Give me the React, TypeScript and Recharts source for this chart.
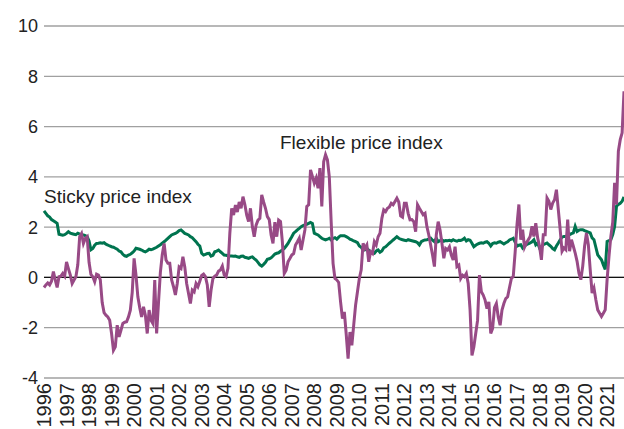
import { CartesianGrid, Line, LineChart, ReferenceLine, XAxis, YAxis } from 'recharts'

// monthly readings, Jan 1996 .. Oct 2021
const years = [
  1996, 1997, 1998, 1999, 2000, 2001, 2002, 2003, 2004, 2005, 2006, 2007, 2008,
  2009, 2010, 2011, 2012, 2013, 2014, 2015, 2016, 2017, 2018, 2019, 2020, 2021,
]

const yTicks = [-4, -2, 0, 2, 4, 6, 8, 10]

const sticky = [
  2.65, 2.55, 2.45, 2.4, 2.3, 2.25, 2.2, 2.15, 1.72, 1.7, 1.68, 1.7, // 1996
  1.75, 1.82, 1.76, 1.74, 1.72, 1.7, 1.76, 1.72, 1.7, 1.69, 1.66, 1.62, // 1997
  1.45, 1.1, 1.15, 1.28, 1.35, 1.36, 1.38, 1.36, 1.38, 1.32, 1.29, 1.25, // 1998
  1.22, 1.2, 1.16, 1.12, 1.05, 1.02, 0.92, 0.86, 0.84, 0.89, 0.92, 0.98, // 1999
  1.05, 1.16, 1.14, 1.12, 1.09, 1.05, 1.02, 1.06, 1.12, 1.1, 1.13, 1.16, // 2000
  1.2, 1.25, 1.3, 1.36, 1.42, 1.48, 1.55, 1.62, 1.69, 1.72, 1.75, 1.8, // 2001
  1.86, 1.89, 1.82, 1.75, 1.72, 1.69, 1.62, 1.58, 1.5, 1.42, 1.32, 1.25, // 2002
  0.96, 0.89, 0.92, 0.95, 0.96, 0.85, 0.88, 1.02, 1.05, 1.09, 1.02, 0.96, // 2003
  0.89, 0.88, 0.86, 0.85, 0.85, 0.84, 0.85, 0.82, 0.8, 0.84, 0.85, 0.8, // 2004
  0.78, 0.76, 0.8, 0.82, 0.75, 0.69, 0.6, 0.5, 0.45, 0.52, 0.6, 0.72, // 2005
  0.74, 0.78, 0.85, 0.93, 0.96, 0.98, 1.04, 1.09, 1.15, 1.25, 1.35, 1.49, // 2006
  1.62, 1.76, 1.82, 1.89, 1.95, 2.02, 2.06, 2.09, 2.11, 2.15, 2.19, 2.15, // 2007
  1.76, 1.72, 1.69, 1.62, 1.56, 1.52, 1.49, 1.52, 1.56, 1.49, 1.55, 1.58, // 2008
  1.52, 1.6, 1.66, 1.66, 1.66, 1.62, 1.58, 1.52, 1.49, 1.45, 1.42, 1.38, // 2009
  1.25, 1.2, 1.09, 1.1, 1.16, 1.08, 1.02, 0.98, 0.96, 1.05, 1.09, 1.0, // 2010
  1.05, 1.18, 1.22, 1.29, 1.36, 1.42, 1.49, 1.55, 1.62, 1.56, 1.52, 1.5, // 2011
  1.48, 1.46, 1.5, 1.48, 1.46, 1.44, 1.42, 1.38, 1.29, 1.42, 1.46, 1.49, // 2012
  1.5, 1.52, 1.56, 1.48, 1.42, 1.56, 1.42, 1.46, 1.49, 1.44, 1.47, 1.46, // 2013
  1.48, 1.45, 1.5, 1.46, 1.44, 1.48, 1.47, 1.5, 1.56, 1.45, 1.5, 1.48, // 2014
  1.36, 1.22, 1.28, 1.33, 1.36, 1.38, 1.36, 1.4, 1.42, 1.36, 1.25, 1.35, // 2015
  1.38, 1.36, 1.4, 1.42, 1.38, 1.33, 1.38, 1.42, 1.49, 1.52, 1.56, 1.4, // 2016
  1.24, 1.28, 1.3, 1.17, 1.25, 1.3, 1.34, 1.37, 1.42, 1.5, 1.3, 1.37, // 2017
  1.17, 1.22, 1.3, 1.34, 1.37, 1.3, 1.24, 1.15, 1.1, 1.25, 1.37, 1.5, // 2018
  1.6, 1.63, 1.63, 1.66, 1.7, 1.74, 1.77, 2.03, 1.83, 1.88, 1.9, 1.9, // 2019
  1.86, 1.83, 1.8, 1.77, 1.57, 1.5, 1.2, 0.9, 0.8, 0.7, 0.5, 0.32, // 2020
  1.43, 1.46, 1.5, 1.7, 2.03, 2.83, 2.9, 2.95, 3.03, 3.2, // 2021
]

const flexible = [
  -0.4, -0.3, -0.22, -0.3, -0.15, 0.23, -0.1, -0.4, 0.03, 0.05, 0.16, 0.05, // 1996
  0.62, 0.35, 0.1, -0.24, -0.1, 0.03, 0.5, 1.62, 1.75, 1.35, 1.55, 1.62, // 1997
  0.6, 0.12, 0.03, -0.17, 0.13, 0.09, -0.1, -1.0, -1.4, -1.5, -1.57, -1.7, // 1998
  -2.23, -2.9, -2.76, -1.9, -2.36, -2.1, -1.83, -1.78, -1.76, -1.57, -1.3, -0.6, // 1999
  0.76, 0.1, -0.77, -1.2, -1.57, -1.17, -1.5, -2.23, -1.3, -1.7, -1.83, -0.1, // 2000
  -2.23, -1.0, 0.2, 0.9, 1.35, 0.69, 0.56, 0.56, -0.1, -0.37, -0.7, -0.24, // 2001
  0.42, 0.36, 0.82, 0.42, -0.24, -0.64, -1.04, -0.5, -0.57, -0.24, -0.37, -0.15, // 2002
  0.08, 0.13, 0.03, -0.3, -1.17, -0.5, -0.04, 0.05, 0.1, 0.25, 0.3, 0.45, // 2003
  0.1, 0.03, 0.36, 1.75, 2.75, 2.48, 2.88, 2.6, 3.0, 2.75, 3.21, 2.9, // 2004
  2.48, 2.22, 2.75, 2.02, 1.62, 2.08, 2.28, 2.35, 3.28, 3.0, 2.75, 2.42, // 2005
  2.3, 1.69, 1.35, 2.2, 1.62, 2.28, 2.22, 1.4, 0.16, 0.29, 0.62, 0.75, // 2006
  0.89, 0.95, 1.29, 1.42, 1.56, 1.09, 1.49, 1.89, 2.82, 2.89, 4.28, 4.02, // 2007
  3.75, 3.95, 3.55, 4.35, 2.82, 4.6, 4.88, 4.68, 4.0, 2.2, 0.56, -0.04, // 2008
  -0.1, -0.2, -0.97, -1.64, -1.37, -2.25, -3.23, -2.17, -2.7, -1.9, -1.1, -0.57, // 2009
  -0.04, 0.3, 1.36, 1.16, 1.29, 0.62, 1.02, 0.95, 1.42, 1.29, 1.62, 1.76, // 2010
  2.35, 2.69, 2.62, 2.75, 2.8, 2.95, 2.89, 3.02, 3.15, 3.0, 2.45, 2.4, // 2011
  2.95, 2.95, 2.55, 2.29, 2.3, 2.22, 1.82, 2.89, 2.75, 2.62, 2.49, 2.55, // 2012
  2.02, 1.69, 1.29, 0.89, 0.43, 1.7, 2.22, 1.89, 1.36, 0.76, 1.15, 1.09, // 2013
  1.22, 0.89, 0.69, 1.22, 0.43, 0.49, -0.04, 0.09, 0.03, 0.16, -0.24, -1.3, // 2014
  -3.1, -2.77, -2.23, -1.7, 0.09, -0.57, -0.7, -0.9, -1.24, -0.97, -2.23, -2.03, // 2015
  -1.2, -1.04, -1.57, -1.9, -1.3, -1.04, -0.84, -0.77, -0.4, -0.04, 0.03, 1.0, // 2016
  2.1, 2.9, 1.5, 1.9, 1.2, 1.37, 1.5, 1.63, 2.03, 1.63, 2.16, 1.57, // 2017
  1.24, 0.7, 1.7, 1.7, 3.16, 3.03, 2.7, 2.96, 3.09, 3.49, 2.7, 1.9, // 2018
  1.04, 1.17, 1.1, 2.3, 1.04, 1.5, 1.24, 0.97, 0.64, 0.17, -0.09, 0.44, // 2019
  1.24, 1.77, 1.3, 0.31, -0.62, -0.42, -0.89, -1.29, -1.42, -1.55, -1.42, -1.29, // 2020
  -0.09, 0.84, 1.63, 2.2, 3.76, 2.9, 5.02, 5.48, 5.75, 7.4, // 2021
]

const data = sticky.map((v, i) => ({ t: i, sticky: v, flexible: flexible[i] }))
const yearTicks = years.map((_, i) => i * 12)

const FONT = '"Liberation Sans", Arial, sans-serif'
const TEXT = '#222'

function YearTick({ x, y, payload }: any) {
  const label = years[Math.round(payload.value / 12)]
  return (
    <text
      transform={`translate(${x},${y}) rotate(-90)`}
      textAnchor="end"
      dy="0.35em"
      fontSize={20}
      fontFamily={FONT}
      fill={TEXT}
    >
      {label}
    </text>
  )
}

export default function App() {
  return (
    <div style={{ position: 'absolute', left: 0, top: 0, width: 624, height: 429, background: '#fff', overflow: 'hidden' }}>
      <LineChart
        width={624}
        height={429}
        data={data}
        margin={{ top: 26, right: 0, left: 0, bottom: 0 }}
      >
        <CartesianGrid vertical={false} stroke="#a0a0a0" strokeWidth={1.3} />
        <XAxis
          dataKey="t"
          type="number"
          domain={[0, 309]}
          ticks={yearTicks}
          interval={0}
          axisLine={false}
          tickLine={false}
          tickSize={0}
          tickMargin={5}
          height={51}
          tick={<YearTick />}
        />
        <YAxis
          type="number"
          domain={[-4, 10]}
          ticks={yTicks}
          interval={0}
          axisLine={false}
          tickLine={false}
          tickSize={4}
          tickMargin={2}
          width={44}
          tick={{ fontSize: 18, fontFamily: FONT, fill: TEXT }}
        />
        <ReferenceLine y={0} stroke="#111" strokeWidth={1.3} />
        <Line
          type="linear"
          dataKey="sticky"
          stroke="#00744f"
          strokeWidth={3}
          dot={false}
          isAnimationActive={false}
        />
        <Line
          type="linear"
          dataKey="flexible"
          stroke="#984a86"
          strokeWidth={3}
          dot={false}
          isAnimationActive={false}
        />
      </LineChart>
      <svg
        width={624}
        height={429}
        style={{ position: 'absolute', left: 0, top: 0, pointerEvents: 'none' }}
      >
        <text x={44} y={203} fontSize={19} fontFamily={FONT} fill={TEXT}>
          Sticky price index
        </text>
        <text x={280} y={149} fontSize={19} fontFamily={FONT} fill={TEXT}>
          Flexible price index
        </text>
      </svg>
    </div>
  )
}
